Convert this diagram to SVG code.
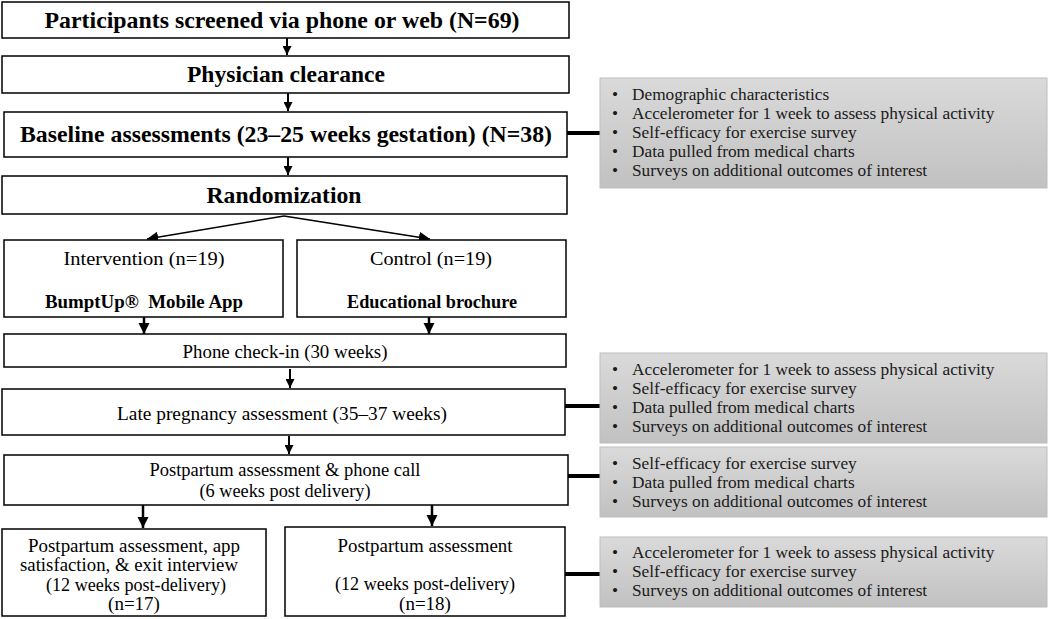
<svg xmlns="http://www.w3.org/2000/svg" width="1050" height="619" viewBox="0 0 1050 619">
<defs>
<marker id="ah" viewBox="0 0 10 10" refX="10" refY="5" markerWidth="4.5" markerHeight="4.5" markerUnits="strokeWidth" orient="auto">
<path d="M0,0 L10,5 L0,10 z" fill="#000"/>
</marker>
<marker id="ahs" viewBox="0 0 10 10" refX="10" refY="5" markerWidth="7" markerHeight="7" markerUnits="strokeWidth" orient="auto">
<path d="M0,0 L10,5 L0,10 z" fill="#000"/>
</marker>
<linearGradient id="gg" x1="0" y1="0" x2="0" y2="1">
<stop offset="0" stop-color="#dadada"/>
<stop offset="1" stop-color="#c1c1c1"/>
</linearGradient>
</defs>
<style>
.box{fill:#fff;stroke:#000;stroke-width:1.5}
.gbox{fill:url(#gg);stroke:#bdbdbd;stroke-width:1}
.t{font-family:"Liberation Serif","Times New Roman",serif;fill:#000;text-anchor:middle;font-size:19px}
.b{font-weight:bold;font-size:23.5px}
.s{font-weight:bold;font-size:18.5px}
.g{font-family:"Liberation Serif","Times New Roman",serif;fill:#1a1a1a;font-size:17.3px}
.arr{stroke:#000;stroke-width:2;fill:none;marker-end:url(#ah)}
.arr2{stroke:#000;stroke-width:2.5;fill:none;marker-end:url(#ah)}
.thin{stroke:#000;stroke-width:1.6;fill:none;marker-end:url(#ahs)}
.link{stroke:#000;stroke-width:4;fill:none}
</style>
<rect width="1050" height="619" fill="#fff"/>
<g id="connectors">
<line class="arr" x1="287" y1="38" x2="287" y2="55"/>
<line class="arr" x1="288" y1="93" x2="288" y2="111"/>
<line class="arr" x1="288" y1="157" x2="288" y2="175"/>
<line class="thin" x1="284" y1="216" x2="147" y2="239"/>
<line class="thin" x1="284" y1="216" x2="430" y2="239"/>
<line class="arr2" x1="144" y1="317" x2="144" y2="334"/>
<line class="arr2" x1="429" y1="317" x2="429" y2="334"/>
<line class="arr" x1="290" y1="369" x2="290" y2="388"/>
<line class="arr" x1="289" y1="436" x2="289" y2="454"/>
<line class="arr2" x1="143" y1="505" x2="143" y2="528"/>
<line class="arr2" x1="432" y1="505" x2="432" y2="526"/>
<line class="link" x1="567" y1="133" x2="600" y2="133"/>
<line class="link" x1="565" y1="406" x2="600" y2="406"/>
<line class="link" x1="568" y1="476" x2="600" y2="476"/>
<line class="link" x1="565" y1="574" x2="600" y2="574"/>
</g>
<g id="n1"><rect class="box" x="2" y="2" width="567" height="36"/><text class="t b" x="282" y="28" textLength="475" lengthAdjust="spacingAndGlyphs">Participants screened via phone or web (N=69)</text></g>
<g id="n2"><rect class="box" x="2" y="56" width="567" height="37"/><text class="t b" x="286" y="82" textLength="198" lengthAdjust="spacingAndGlyphs">Physician clearance</text></g>
<g id="n3"><rect class="box" x="4" y="112" width="563" height="45"/><text class="t b" x="286" y="142" textLength="532" lengthAdjust="spacingAndGlyphs">Baseline assessments (23–25 weeks gestation) (N=38)</text></g>
<g id="n4"><rect class="box" x="2" y="176" width="565" height="38"/><text class="t b" x="284" y="203" textLength="155" lengthAdjust="spacingAndGlyphs">Randomization</text></g>
<g id="n5"><rect class="box" x="4" y="240" width="279" height="77"/><text class="t" x="144" y="265" font-size="20.5" textLength="161" lengthAdjust="spacingAndGlyphs">Intervention (n=19)</text><text class="t s" x="144" y="308" textLength="198" lengthAdjust="spacingAndGlyphs" xml:space="preserve">BumptUp®  Mobile App</text></g>
<g id="n6"><rect class="box" x="297" y="240" width="269" height="77"/><text class="t" x="431" y="265" font-size="20.5" textLength="122" lengthAdjust="spacingAndGlyphs">Control (n=19)</text><text class="t s" x="432" y="308" textLength="170" lengthAdjust="spacingAndGlyphs">Educational brochure</text></g>
<g id="n7"><rect class="box" x="4" y="334" width="562" height="33"/><text class="t" x="285" y="358" textLength="205" lengthAdjust="spacingAndGlyphs">Phone check-in (30 weeks)</text></g>
<g id="n8"><rect class="box" x="2" y="389" width="563" height="46"/><text class="t" x="282" y="420" textLength="330" lengthAdjust="spacingAndGlyphs">Late pregnancy assessment (35–37 weeks)</text></g>
<g id="n9"><rect class="box" x="4" y="455" width="564" height="50"/><text class="t" x="285" y="476" textLength="271" lengthAdjust="spacingAndGlyphs">Postpartum assessment &amp; phone call</text><text class="t" x="285" y="497" textLength="171" lengthAdjust="spacingAndGlyphs">(6 weeks post delivery)</text></g>
<g id="n10"><rect class="box" x="2" y="529" width="264" height="87"/><text class="t" x="134" y="552" textLength="212" lengthAdjust="spacingAndGlyphs">Postpartum assessment, app</text><text class="t" x="129" y="571" textLength="218" lengthAdjust="spacingAndGlyphs">satisfaction, &amp; exit interview</text><text class="t" x="136" y="591" textLength="180" lengthAdjust="spacingAndGlyphs">(12 weeks post-delivery)</text><text class="t" x="134" y="610">(n=17)</text></g>
<g id="n11"><rect class="box" x="285" y="527" width="280" height="89"/><text class="t" x="425" y="552" textLength="175" lengthAdjust="spacingAndGlyphs">Postpartum assessment</text><text class="t" x="425" y="590" textLength="180" lengthAdjust="spacingAndGlyphs">(12 weeks post-delivery)</text><text class="t" x="425" y="610">(n=18)</text></g>
<g id="g1"><rect class="gbox" x="600" y="78" width="447" height="110"/>
<g class="g"><text x="612" y="100">•</text><text x="632" y="100">Demographic characteristics</text>
<text x="612" y="119">•</text><text x="632" y="119">Accelerometer for 1 week to assess physical activity</text>
<text x="612" y="138">•</text><text x="632" y="138">Self-efficacy for exercise survey</text>
<text x="612" y="157">•</text><text x="632" y="157">Data pulled from medical charts</text>
<text x="612" y="176">•</text><text x="632" y="176">Surveys on additional outcomes of interest</text></g></g>
<g id="g2"><rect class="gbox" x="600" y="353" width="447" height="90"/>
<g class="g"><text x="612" y="375">•</text><text x="632" y="375">Accelerometer for 1 week to assess physical activity</text>
<text x="612" y="394">•</text><text x="632" y="394">Self-efficacy for exercise survey</text>
<text x="612" y="413">•</text><text x="632" y="413">Data pulled from medical charts</text>
<text x="612" y="432">•</text><text x="632" y="432">Surveys on additional outcomes of interest</text></g></g>
<g id="g3"><rect class="gbox" x="600" y="447" width="447" height="70"/>
<g class="g"><text x="612" y="469">•</text><text x="632" y="469">Self-efficacy for exercise survey</text>
<text x="612" y="488">•</text><text x="632" y="488">Data pulled from medical charts</text>
<text x="612" y="507">•</text><text x="632" y="507">Surveys on additional outcomes of interest</text></g></g>
<g id="g4"><rect class="gbox" x="600" y="537" width="447" height="70"/>
<g class="g"><text x="612" y="558">•</text><text x="632" y="558">Accelerometer for 1 week to assess physical activity</text>
<text x="612" y="577">•</text><text x="632" y="577">Self-efficacy for exercise survey</text>
<text x="612" y="596">•</text><text x="632" y="596">Surveys on additional outcomes of interest</text></g></g>
</svg>
